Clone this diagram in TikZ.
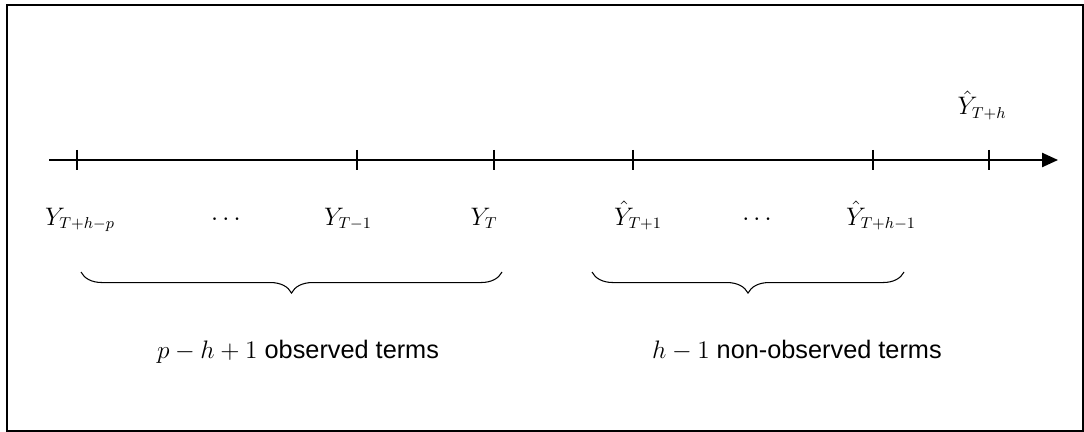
\documentclass[tikz,border=0pt]{standalone}
\usepackage{fontspec}
\setmainfont{Liberation Sans}
\usetikzlibrary{arrows.meta,positioning,decorations.pathreplacing,calc}

\begin{document}
\begin{tikzpicture}[x=0.02cm,y=-0.02cm,
    lbl/.style={inner sep=1pt,anchor=base,font=\fontsize{13.5}{16}\selectfont},
    tick/.style={line width=0.8pt},
    brc/.style={decorate,decoration={brace,mirror,amplitude=12pt},line width=0.6pt},
    cnt/.style={inner sep=1pt,anchor=base west,font=\Large}]
    \useasboundingbox (0,0) rectangle (1084,432);
    \draw[line width=1pt] (7,5) rectangle (1083,431);
    \coordinate (A0) at (49,160);
    \coordinate (A1) at (1058,160);
    \draw[-{Triangle[length=9pt,width=8pt]},line width=1pt] (A0) -- (A1);
    \foreach \x in {77,357,494,633,873,989} {
      \draw[tick] (\x,150) -- (\x,170);
    }
    \node[lbl] (y0) at (80,225) {$Y_{T+h-p}$};
    \node[lbl] (d0) at (226,225) {$\cdots$};
    \node[lbl] (y1) at (348,225) {$Y_{T-1}$};
    \node[lbl] (y2) at (484,225) {$Y_{T}$};
    \node[lbl] (f0) at (638,225) {$\hat{Y}_{T+1}$};
    \node[lbl] (d1) at (757,225) {$\cdots$};
    \node[lbl] (f1) at (881,225) {$\hat{Y}_{T+h-1}$};
    \node[lbl] (f2) at (982,115) {$\hat{Y}_{T+h}$};
    \coordinate (b0) at (81,272);
    \coordinate (b1) at (502,272);
    \coordinate (b2) at (592,272);
    \coordinate (b3) at (904,272);
    \draw[brc] (b0) -- (b1);
    \draw[brc] (b2) -- (b3);
    \node[cnt] (obs) at (155,358) {$p-h+1$ observed terms};
    \node[cnt] (nobs) at (650,358) {$h-1$ non-observed terms};
  \end{tikzpicture}
\end{document}
